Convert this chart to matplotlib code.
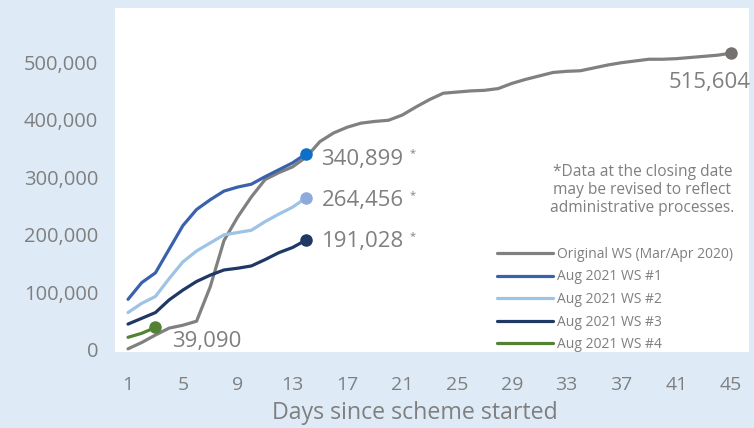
import matplotlib
matplotlib.use("Agg")
import matplotlib.pyplot as plt

# cumulative applications by day since scheme started
orig_ws = [2000, 13000, 26000, 38000, 43000, 50000, 110000, 190000, 231000, 266000,
           296000, 308000, 318000, 335000, 362000, 377000, 387000, 394000, 397000, 399000,
           408000, 422000, 435000, 446000, 448000, 450000, 451000, 454000, 463000, 470000,
           476000, 482000, 484000, 485000, 490000, 495000, 499000, 502000, 505000, 505000,
           506000, 508000, 510000, 512000, 515604]
ws1 = [88000, 117000, 134000, 175000, 216000, 244000, 261000, 276000, 283000, 288000,
       301000, 313000, 325000, 340899]
ws2 = [65000, 81000, 93000, 124000, 153000, 172000, 186000, 200000, 204000, 208000,
       223000, 236000, 248000, 264456]
ws3 = [45000, 55000, 65000, 87000, 104000, 119000, 130000, 139000, 142000, 146000,
       157000, 169000, 178000, 191028]
ws4 = [22000, 29000, 39090]

labels = ["Original WS (Mar/Apr 2020)", "Aug 2021 WS #1", "Aug 2021 WS #2",
          "Aug 2021 WS #3", "Aug 2021 WS #4"]
xticks = list(range(1, 46, 4))
yticks = [0, 100000, 200000, 300000, 400000, 500000]

bg = "#DEEBF7"
txt = "#7F7F7F"
line_cols = ["#808080", "#3A62AC", "#9DC3E6", "#1F3864", "#548235"]
dot_cols = ["#767171", "#0F6FC6", "#8EA9DB", "#1F3864", "#548235"]

plt.rcParams['font.family'] = ['Open Sans', 'DejaVu Sans']

fig = plt.figure(figsize=(7.54, 4.28), dpi=100, facecolor=bg)
ax = fig.add_axes([115/754, 1 - 352/428, 634/754, 344/428])
ax.set_facecolor("white")

series = [orig_ws, ws1, ws2, ws3, ws4]
for vals, lab, lc, dc in zip(series, labels, line_cols, dot_cols):
    days = list(range(1, len(vals) + 1))
    ax.plot(days, vals, color=lc, lw=2.3, label=lab, solid_capstyle="round", zorder=3)
    ax.plot(days[-1], vals[-1], "o", color=dc, ms=8, zorder=4)

# end labels
def end_label(vals, text, dx, dy, ha="left", star=False):
    x, y = len(vals), vals[-1]
    t = ax.annotate(text, xy=(x, y), xytext=(dx, dy), textcoords="offset points",
                    ha=ha, va="center", fontsize=16, color=txt)
    if star:
        ax.annotate("*", xy=(1, 0.75), xycoords=t, xytext=(4, 0), textcoords="offset points",
                    ha="left", va="center", fontsize=8, color=txt)

end_label(ws1, "340,899", 11, -4, star=True)
end_label(ws2, "264,456", 11, -2, star=True)
end_label(ws3, "191,028", 11, -1, star=True)
end_label(ws4, "39,090", 12, -10)
end_label(orig_ws, "515,604", 14, -21, ha="right")

ax.text(0.832, 0.471, "*Data at the closing date\nmay be revised to reflect\nadministrative processes.",
        transform=ax.transAxes, ha="center", va="center", fontsize=11.2, color=txt,
        linespacing=1.15)

ax.set_xlim(0.05, 46.3)
ax.set_ylim(-3500, 594000)
ax.set_xticks(xticks)
ax.set_yticks(yticks)
ax.set_yticklabels([f"{v:,}" for v in yticks])
ax.tick_params(length=0, colors=txt)
ax.tick_params(axis="y", labelsize=14.5, pad=12)
ax.tick_params(axis="x", labelsize=14, pad=17)
for s in ax.spines.values():
    s.set_visible(False)
ax.set_xlabel("Days since scheme started", fontsize=16.7, color=txt)
ax.xaxis.set_label_coords(0.473, -0.142)

leg = ax.legend(loc="upper left", bbox_to_anchor=(0.603, 0.306), frameon=False,
                fontsize=10, handlelength=4.0, handletextpad=0.3, labelspacing=0.55,
                borderaxespad=0, borderpad=0)
for t in leg.get_texts():
    t.set_color(txt)

fig.savefig("out.png", dpi=100, facecolor=bg)
